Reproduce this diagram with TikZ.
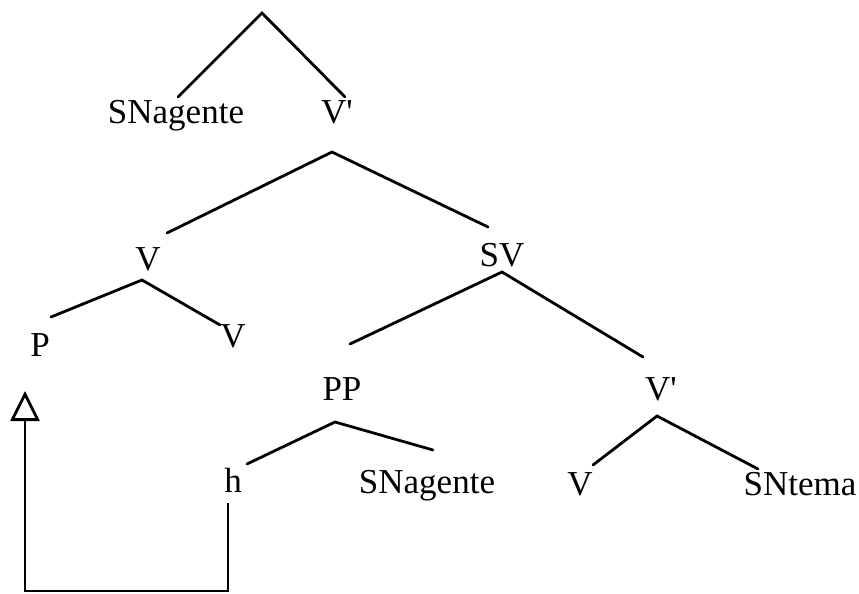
\documentclass[tikz,border=0pt]{standalone}
\usepackage{fontspec}
\setmainfont{Liberation Serif}
\usetikzlibrary{arrows.meta}
\tikzset{
  lbl/.style={anchor=base, inner sep=0pt, font=\fontsize{35}{40}\selectfont},
  branch/.style={line width=2.8pt, line cap=round},
  movearrow/.style={line width=2.8pt, line join=miter, -{Triangle[open,length=30pt,width=29pt,line width=2.8pt]}}
}
\begin{document}
\begin{tikzpicture}[x=1pt,y=-1pt]
\useasboundingbox (0,0) rectangle (859,594);
% labels
\node[lbl] (sna1) at (176,123) {SNagente};
\node[lbl] (vb1) at (337,123) {V\textquotesingle};
\node[lbl] (v1) at (148,270) {V};
\node[lbl] (sv) at (502,266) {SV};
\node[lbl] (p) at (40,356) {P};
\node[lbl] (v2) at (233,347) {V};
\node[lbl] (pp) at (342,400) {PP};
\node[lbl] (vb2) at (661,400) {V\textquotesingle};
\node[lbl] (h) at (233,492) {h};
\node[lbl] (sna2) at (427,493) {SNagente};
\node[lbl] (v3) at (580,495) {V};
\node[lbl] (snt) at (800,495) {SNtema};
% apex points
\coordinate (a0) at (262,13);
\coordinate (a1) at (332,152);
\coordinate (a2) at (142,280);
\coordinate (a3) at (502,272);
\coordinate (a4) at (335,422);
\coordinate (a5) at (657,416);
% branch ends
\coordinate (e0l) at (178,97);  \coordinate (e0r) at (345,97);
\coordinate (e1l) at (167,233); \coordinate (e1r) at (488,227);
\coordinate (e2l) at (51,317);  \coordinate (e2r) at (220,325);
\coordinate (e3l) at (350,344); \coordinate (e3r) at (643,357);
\coordinate (e4l) at (247,464); \coordinate (e4r) at (433,450);
\coordinate (e5l) at (593,465); \coordinate (e5r) at (758,469);
\draw[branch] (e0l) -- (a0) -- (e0r);
\draw[branch] (e1l) -- (a1) -- (e1r);
\draw[branch] (e2l) -- (a2) -- (e2r);
\draw[branch] (e3l) -- (a3) -- (e3r);
\draw[branch] (e4l) -- (a4) -- (e4r);
\draw[branch] (e5l) -- (a5) -- (e5r);
% movement arrow
\coordinate (hs) at (228,503);
\coordinate (hc) at (228,591);
\coordinate (pc) at (25,591);
\coordinate (pt) at (25,391);
\draw[movearrow] (hs) -- (hc) -- (pc) -- (pt);
\end{tikzpicture}
\end{document}
